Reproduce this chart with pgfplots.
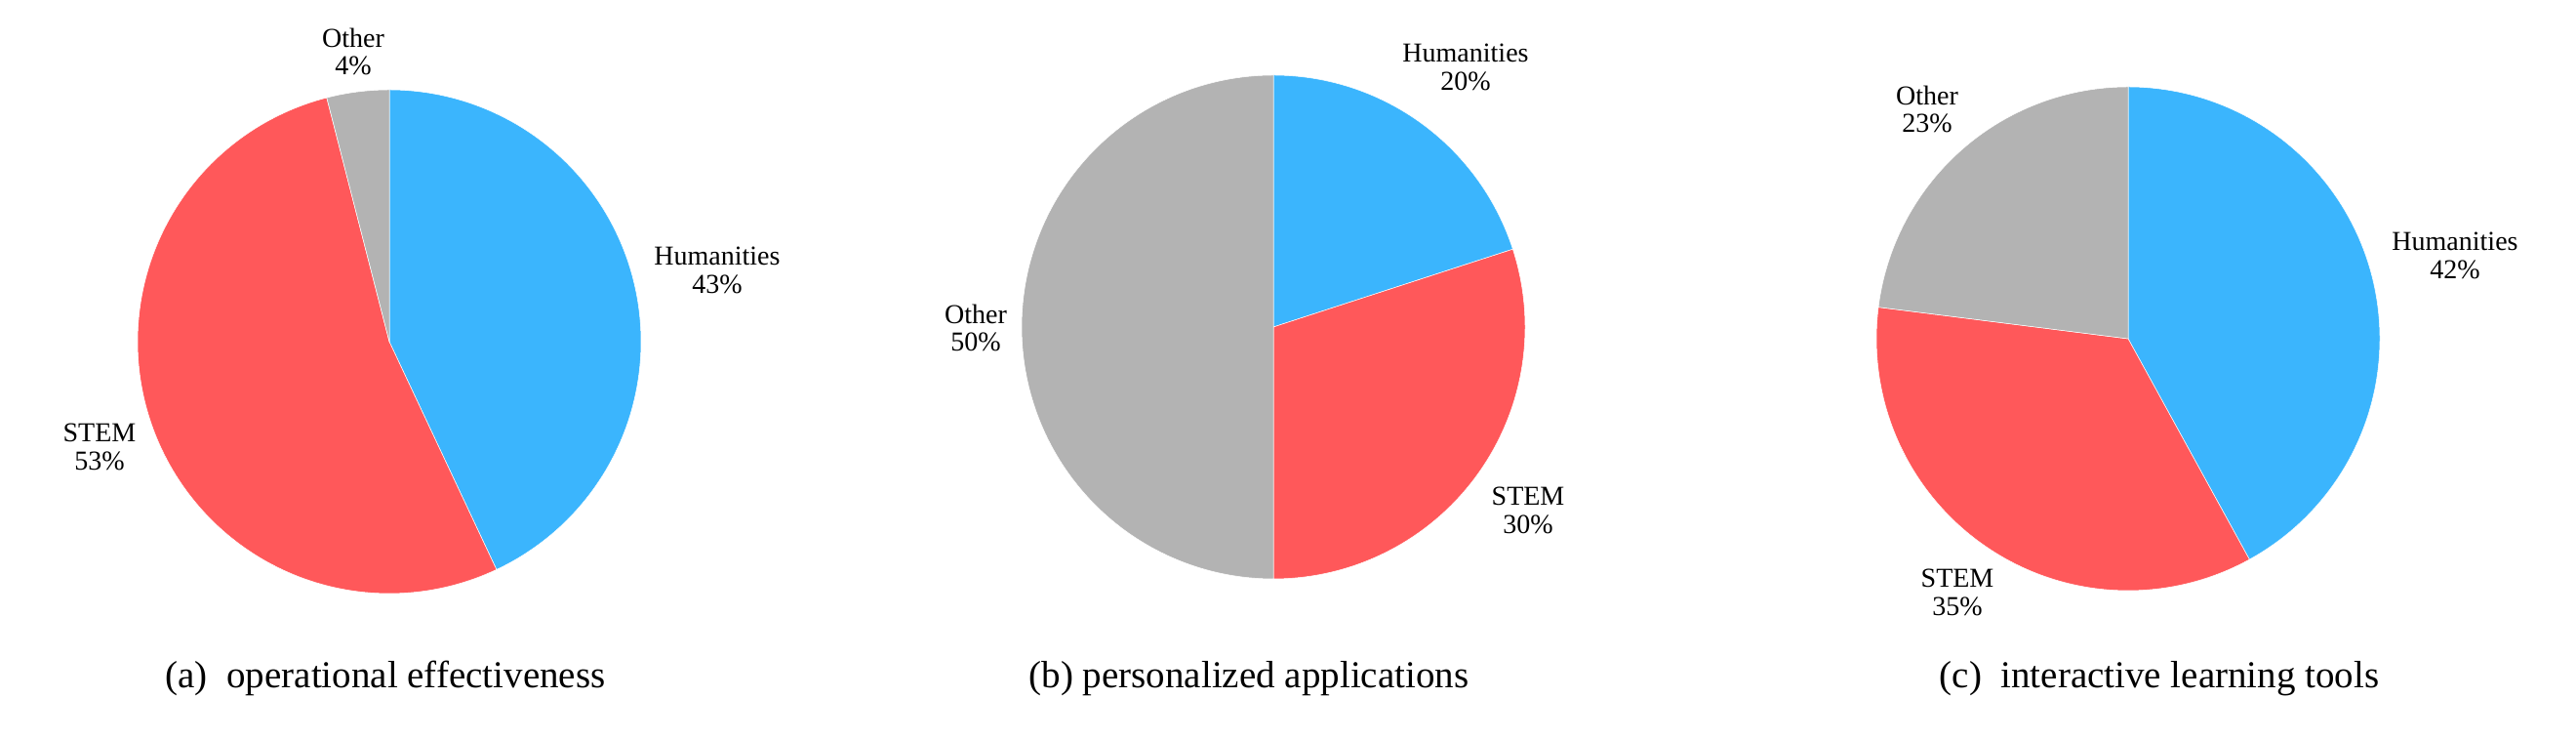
\documentclass[border=0pt]{standalone}
\usepackage{pgfplots}
\pgfplotsset{compat=1.18}
\usepackage{fontspec}
\setmainfont{Liberation Serif}
\definecolor{hum}{RGB}{59,181,253}
\definecolor{stem}{RGB}{255,88,90}
\definecolor{oth}{RGB}{179,179,179}
\tikzset{
  plab/.style={align=center, inner sep=0pt, font=\fontsize{8.4}{8.6}\selectfont},
  pcap/.style={inner sep=0pt, font=\fontsize{11.7}{13}\selectfont},
}
% #1 cx, #2 cy, #3 cumulative start (%), #4 share (%), #5 colour
\newcommand{\slice}[5]{%
  \addplot[fill=#5, draw=white, line width=0.15pt, domain={90-3.6*(#3+#4)}:{90-3.6*(#3)}, samples=150, variable=\t]
    ({#1+258*cos(\t)},{#2+258*sin(\t)}) -- (axis cs:#1,#2) -- cycle;
}
\begin{document}
\begin{tikzpicture}
\begin{axis}[
  scale only axis, width=792pt, height=227.1pt,
  xmin=0, xmax=2640, ymin=0, ymax=757,
  hide axis, clip=false,
]
\path (axis cs:0,0) rectangle (axis cs:2640,757);
% (a) operational effectiveness: Humanities 43, STEM 53, Other 4
\slice{399}{407}{0}{43}{hum}
\slice{399}{407}{43}{53}{stem}
\slice{399}{407}{96}{4}{oth}
% (b) personalized applications: Humanities 20, STEM 30, Other 50
\slice{1305}{422}{0}{20}{hum}
\slice{1305}{422}{20}{30}{stem}
\slice{1305}{422}{50}{50}{oth}
% (c) interactive learning tools: Humanities 42, STEM 35, Other 23
\slice{2181}{410}{0}{42}{hum}
\slice{2181}{410}{42}{35}{stem}
\slice{2181}{410}{77}{23}{oth}

\node[plab] at (axis cs:362,704) {Other\\4\%};
\node[plab] at (axis cs:735,480) {Humanities\\43\%};
\node[plab] at (axis cs:102,299) {STEM\\53\%};

\node[plab] at (axis cs:1502,688) {Humanities\\20\%};
\node[plab] at (axis cs:1000,421) {Other\\50\%};
\node[plab] at (axis cs:1566,234) {STEM\\30\%};

\node[plab] at (axis cs:1975,645) {Other\\23\%};
\node[plab] at (axis cs:2516,495) {Humanities\\42\%};
\node[plab] at (axis cs:2006,150) {STEM\\35\%};

\node[pcap] at (axis cs:395,62) {(a)\ \ operational effectiveness};
\node[pcap] at (axis cs:1280,62) {(b) personalized applications};
\node[pcap] at (axis cs:2213,62) {(c)\ \ interactive learning tools};
\end{axis}
\end{tikzpicture}
\end{document}
